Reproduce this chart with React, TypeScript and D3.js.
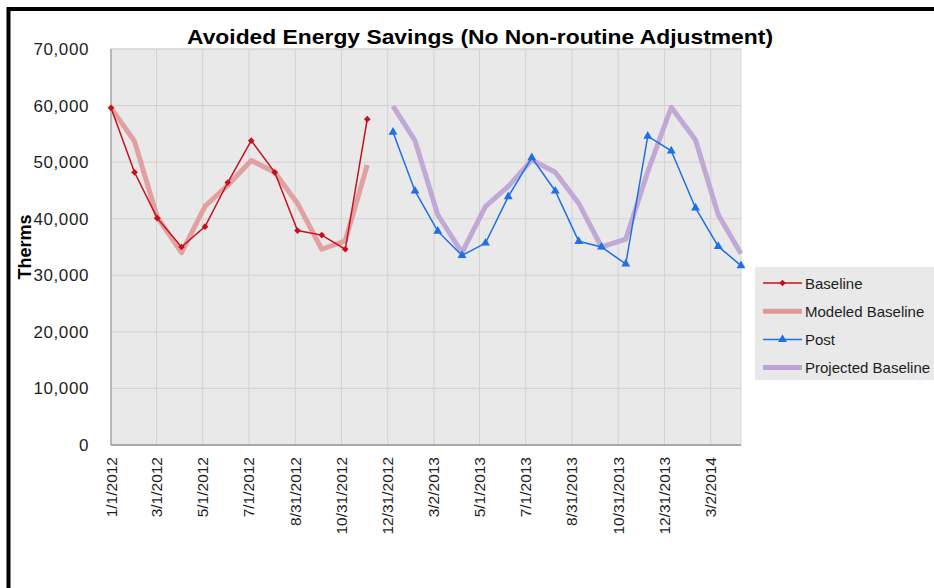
import React from "react";
import * as d3 from "d3";

// ---- data ----
const baselineDates = ["2012-01-01","2012-02-01","2012-03-02","2012-04-03","2012-05-04","2012-06-03","2012-07-04","2012-08-04","2012-09-03","2012-10-05","2012-11-05","2012-12-04"];
const baselineValues = [59600, 48200, 40100, 35000, 38600, 46400, 53800, 48200, 37900, 37100, 34600, 57600];
const modeledValues = [59600, 53700, 40300, 34000, 42200, 45900, 50300, 48200, 42700, 34600, 36100, 49500];

const postDates = ["2013-01-07","2013-02-05","2013-03-07","2013-04-08","2013-05-09","2013-06-08","2013-07-09","2013-08-09","2013-09-09","2013-10-09","2013-11-10","2013-12-09","2014-01-09","2014-02-10","2014-03-12","2014-04-11"];
const postValues = [55300, 44900, 37800, 33500, 35700, 43900, 50800, 44900, 36000, 35000, 32000, 54600, 52000, 41900, 35100, 31700];
const projectedValues = [59900, 53800, 40700, 34000, 42200, 45700, 50400, 48200, 42700, 35000, 36400, 48300, 59700, 53900, 40700, 33800];

const xTickLabels = ["1/1/2012","3/1/2012","5/1/2012","7/1/2012","8/31/2012","10/31/2012","12/31/2012","3/2/2013","5/1/2013","7/1/2013","8/31/2013","10/31/2013","12/31/2013","3/2/2014"];
const yTicks = [0, 10000, 20000, 30000, 40000, 50000, 60000, 70000];

const seriesNames = ["Baseline", "Modeled Baseline", "Post", "Projected Baseline"];

// ---- styles ----
const C = {
  baseline: "#c8101a",
  modeled: "#e0999b",
  post: "#1f6fe6",
  projected: "#bda2d3",
  plotBg: "#e9e9e9",
  grid: "#d2d2d2",
  axis: "#a8a8a8",
  text: "#1e1e1e",
};

const M = { left: 111, right: 741, top: 49, bottom: 445 };
const FONT = "'Liberation Sans', Arial, sans-serif";

export default function App() {
  const parseISO = d3.utcParse("%Y-%m-%d");
  const parseTick = d3.utcParse("%m/%d/%Y");
  const bDates = baselineDates.map((s) => parseISO(s) as Date);
  const pDates = postDates.map((s) => parseISO(s) as Date);
  const tickDates = xTickLabels.map((s) => parseTick(s) as Date);

  const x = d3
    .scaleUtc()
    .domain(d3.extent([...bDates, ...pDates]) as [Date, Date])
    .range([M.left, M.right]);
  const y = d3.scaleLinear().domain([0, 70000]).range([M.bottom, M.top]);

  const line = d3
    .line<[Date, number]>()
    .x((d) => x(d[0]))
    .y((d) => y(d[1]));

  const baseData: [Date, number][] = bDates.map((d, i) => [d, baselineValues[i]]);
  const modData: [Date, number][] = bDates.map((d, i) => [d, modeledValues[i]]);
  const postData: [Date, number][] = pDates.map((d, i) => [d, postValues[i]]);
  const projData: [Date, number][] = pDates.map((d, i) => [d, projectedValues[i]]);

  const diamond = d3.symbol(d3.symbolSquare, 22)() as string;
  const triangle = d3.symbol(d3.symbolTriangle, 34)() as string;
  const fmt = d3.format(",");

  const legendY = (i: number) => 283 + i * 28.2;

  return (
    <svg width={934} height={588} style={{ position: "absolute", left: 0, top: 0, background: "#fff" }}>
      {/* outer frame */}
      <rect x={8.5} y={9} width={1000} height={700} fill="#fff" stroke="#000" strokeWidth={4} />

      {/* title */}
      <text
        x={480}
        y={44}
        textAnchor="middle"
        fontFamily={FONT}
        fontWeight="bold"
        fontSize={21}
        fill="#000"
        textLength={586}
        lengthAdjust="spacingAndGlyphs"
      >
        Avoided Energy Savings (No Non-routine Adjustment)
      </text>

      {/* plot background */}
      <rect x={M.left} y={M.top} width={M.right - M.left} height={M.bottom - M.top} fill={C.plotBg} stroke="#d8d8d8" strokeWidth={1} />

      {/* horizontal grid */}
      {yTicks.slice(1).map((t) => (
        <line key={"h" + t} x1={M.left} x2={M.right} y1={y(t)} y2={y(t)} stroke={C.grid} strokeWidth={1} />
      ))}
      {/* vertical grid */}
      {tickDates.slice(1).map((d, i) => (
        <line key={"v" + i} x1={x(d)} x2={x(d)} y1={M.top} y2={M.bottom} stroke={C.grid} strokeWidth={1} />
      ))}

      {/* axes */}
      <line x1={M.left} x2={M.left} y1={M.top} y2={M.bottom} stroke={C.axis} strokeWidth={1.5} />
      <line x1={M.left} x2={M.right} y1={M.bottom} y2={M.bottom} stroke={C.axis} strokeWidth={2} />

      {/* thick model lines */}
      <path d={line(modData) as string} fill="none" stroke={C.modeled} strokeWidth={5} strokeLinejoin="round" strokeOpacity={0.9} />
      <path d={line(projData) as string} fill="none" stroke={C.projected} strokeWidth={5} strokeLinejoin="round" strokeOpacity={0.9} />

      {/* baseline */}
      <path d={line(baseData) as string} fill="none" stroke={C.baseline} strokeWidth={1.5} />
      {baseData.map((d, i) => (
        <path key={"b" + i} d={diamond} transform={`translate(${x(d[0])},${y(d[1])}) rotate(45)`} fill={C.baseline} />
      ))}

      {/* post */}
      <path d={line(postData) as string} fill="none" stroke={C.post} strokeWidth={1.5} />
      {postData.map((d, i) => (
        <path key={"p" + i} d={triangle} transform={`translate(${x(d[0])},${y(d[1])})`} fill={C.post} />
      ))}

      {/* y tick labels */}
      {yTicks.map((t) => (
        <text key={"yl" + t} x={89} y={y(t) + 6} textAnchor="end" fontFamily={FONT} fontSize={17} fill={C.text} letterSpacing={0.6}>
          {fmt(t)}
        </text>
      ))}

      {/* x tick labels */}
      {tickDates.map((d, i) => (
        <text
          key={"xl" + i}
          transform={`translate(${x(d) + 5.5},457) rotate(-90)`}
          textAnchor="end"
          fontFamily={FONT}
          fontSize={15.5}
          fill={C.text}
        >
          {xTickLabels[i]}
        </text>
      ))}

      {/* y axis title */}
      <text transform="translate(31,247) rotate(-90)" textAnchor="middle" fontFamily={FONT} fontWeight="bold" fontSize={18} fill="#000">
        Therms
      </text>

      {/* legend */}
      <rect x={755} y={267} width={200} height={113} fill="#e9e9e9" />
      {seriesNames.map((name, i) => {
        const ly = legendY(i);
        const color = [C.baseline, C.modeled, C.post, C.projected][i];
        const thick = i === 1 || i === 3;
        return (
          <g key={"lg" + i}>
            <line x1={763} x2={802} y1={ly} y2={ly} stroke={color} strokeWidth={thick ? 5 : 1.5} />
            {i === 0 && <path d={diamond} transform={`translate(782.5,${ly}) rotate(45)`} fill={color} />}
            {i === 2 && <path d={triangle} transform={`translate(782.5,${ly})`} fill={color} />}
            <text x={805} y={ly + 5.5} fontFamily={FONT} fontSize={15} fill={C.text}>
              {name}
            </text>
          </g>
        );
      })}
    </svg>
  );
}
